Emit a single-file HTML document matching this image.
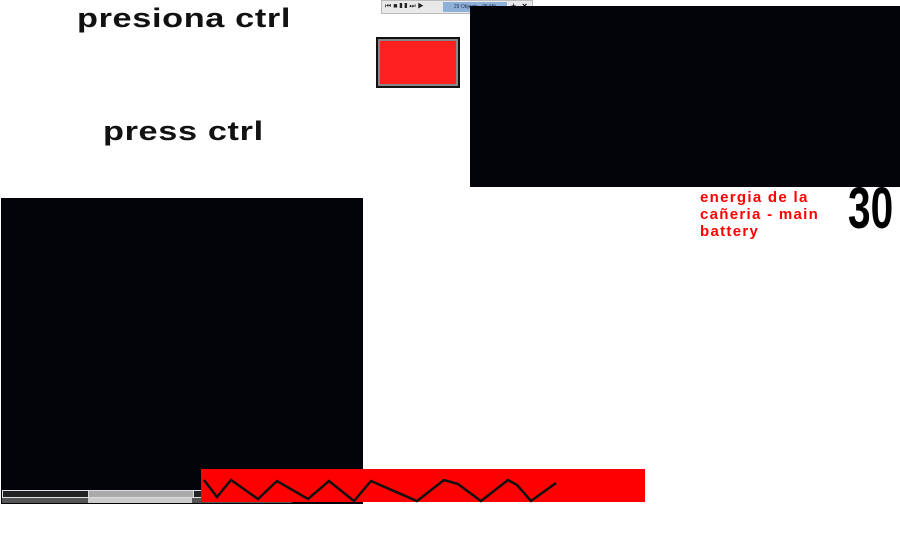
<!DOCTYPE html>
<html><head><style>
body{margin:0;width:900px;height:554px;background:#fff;position:relative;overflow:hidden;font-family:"Liberation Sans",sans-serif}
div{position:absolute}
.t{font-weight:bold;color:#111;white-space:nowrap;letter-spacing:0.5px;transform:scaleX(1.27);transform-origin:left top}
</style></head><body>
<div class="t" style="left:77px;top:2px;font-size:27px;line-height:32px">presiona ctrl</div>
<div class="t" style="left:103px;top:115px;font-size:27px;line-height:32px">press ctrl</div>
<div style="left:381px;top:0;width:150px;height:12px;background:#e8e8e8;border:1px solid #bbb;font-size:6px">
 <div style="left:3px;top:2px;font-size:7px;line-height:8px;color:#222;letter-spacing:2px">⏮■❚❚⏭▶</div>
 <div style="left:61px;top:1px;width:64px;height:10px;background:#8fb0d8;color:#235;font-size:5px;line-height:10px;text-align:center">29 Objects - 95 Mb</div>
 <div style="left:129px;top:0;font-size:9px;line-height:11px">+</div>
 <div style="left:140px;top:0;font-size:9px;line-height:11px;font-weight:bold">×</div>
</div>
<div style="left:378px;top:39px;width:76px;height:43px;background:#ff2020;border:2px solid #888;outline:2px solid #111"></div>
<div style="left:470px;top:6px;width:430px;height:181px;background:#03030a"></div>
<div style="left:700px;top:189px;color:#ff0000;font-weight:bold;font-size:15px;line-height:17px;letter-spacing:1.3px">energia de la<br>cañeria - main<br>battery</div>
<div style="left:848px;top:178px;font-size:58px;line-height:62px;font-weight:bold;color:#000;transform:scaleX(0.7);transform-origin:left top;font-family:'Liberation Sans Narrow','Liberation Sans',sans-serif">30</div>
<div style="left:1px;top:198px;width:362px;height:306px;background:#03030a"></div>
<div style="left:2px;top:490px;width:200px;height:6px;border:1px solid #ddd;background:#222"></div>
<div style="left:88px;top:490px;width:104px;height:6px;background:#aaa;border:1px solid #ddd"></div>
<div style="left:2px;top:498px;width:290px;height:5px;background:#555"></div>
<div style="left:88px;top:498px;width:104px;height:5px;background:#ccc"></div>
<div style="left:201px;top:469px;width:444px;height:33px;background:#ff0000"></div>
<svg style="position:absolute;left:0;top:0" width="900" height="554">
<polyline fill="none" stroke="#111" stroke-width="2.5" points="204,480 217,497 231,480 258,499 277,481 308,499 329,481 354,501 371,481 417,501 444,480 458,484 481,501 508,480 517,485 531,501 556,483"/>
</svg>
</body></html>
